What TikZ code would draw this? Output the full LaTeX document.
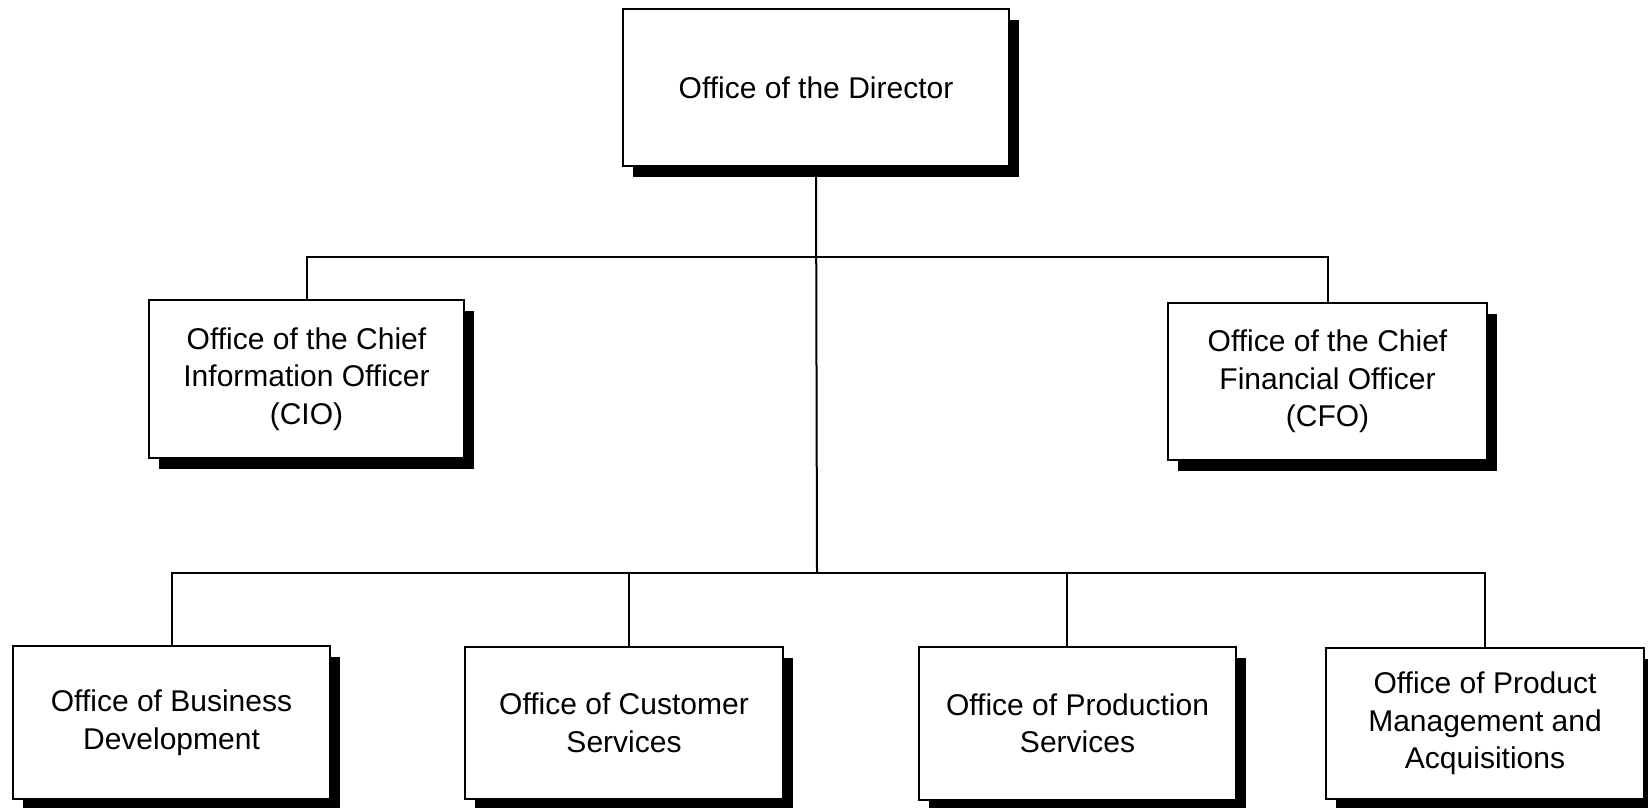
\documentclass[tikz,border=0pt]{standalone}
\usepackage{fontspec}
\setmainfont{Liberation Sans}
\usetikzlibrary{shadows}
\begin{document}
\begin{tikzpicture}[x=1pt,y=-1pt,
  orgbox/.style={draw=black, line width=2pt, fill=white, rectangle, inner sep=0pt,
    align=center, font=\fontsize{30}{37.5}\selectfont,
    drop shadow={shadow xshift=10pt, shadow yshift=-11pt, fill=black, opacity=1}},
  link/.style={draw=black, line width=2pt}]
\useasboundingbox (0,0) rectangle (1648,807);
\fill[white] (0,0) rectangle (1648,807);
\node[orgbox, minimum width=386pt, minimum height=157pt] (dir) at (816,87.5) {Office of the Director};
\node[orgbox, minimum width=315pt, minimum height=158pt] (cio) at (306.5,379) {Office of the Chief\\Information Officer\\(CIO)};
\node[orgbox, minimum width=319pt, minimum height=157pt] (cfo) at (1327.5,381.5) {Office of the Chief\\Financial Officer\\(CFO)};
\node[orgbox, minimum width=317pt, minimum height=153pt] (bus) at (171.5,722.5) {Office of Business\\Development};
\node[orgbox, minimum width=318pt, minimum height=152pt] (cus) at (624,723) {Office of Customer\\Services};
\node[orgbox, minimum width=317pt, minimum height=153pt] (prod) at (1077.5,723.5) {Office of Production\\Services};
\node[orgbox, minimum width=318pt, minimum height=151pt] (pma) at (1485,723.5) {Office of Product\\Management and\\Acquisitions};
\coordinate (ub) at (817,257);
\coordinate (lb) at (817,573);
\draw[link] (dir.south) -- (lb);
\draw[link] (cio.north) |- (ub) -| (cfo.north);
\draw[link] (bus.north) |- (lb) -| (pma.north);
\draw[link] ([xshift=5pt]cus.north) -- ([xshift=5pt]cus.north |- lb);
\draw[link] ([xshift=-10.5pt]prod.north) -- ([xshift=-10.5pt]prod.north |- lb);
\end{tikzpicture}
\end{document}
